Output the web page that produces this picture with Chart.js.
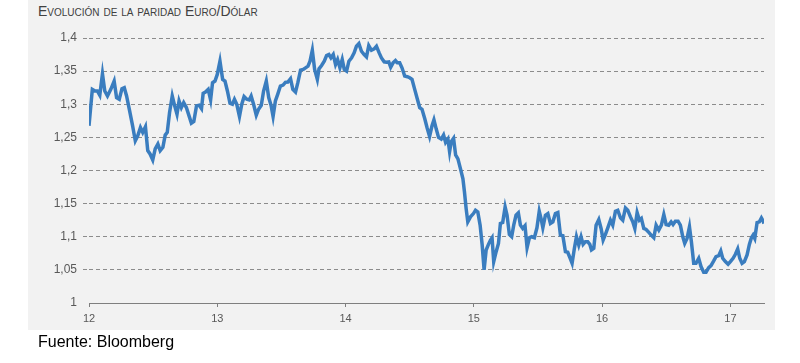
<!DOCTYPE html>
<html lang="es">
<head>
    <meta charset="UTF-8">
    <title>Evolución de la paridad Euro/Dólar</title>
    <script src="https://cdn.jsdelivr.net/npm/chart.js"></script>
    <style>
        html, body { margin: 0; padding: 0; background: #fff; }
        body { width: 800px; height: 363px; position: relative; overflow: hidden; font-family: "Liberation Sans", Arial, sans-serif; }
        #panel { position: absolute; left: 28px; top: 0; width: 747px; height: 330px; background: #f2f2f2; }
        #titulo { position: absolute; left: 38px; top: 3px; font-size: 14px; font-variant: small-caps; color: #404040; }
        #fuente { position: absolute; left: 38px; top: 333px; font-size: 16px; color: #000; }
        canvas { position: absolute; left: 0; top: 0; }
    </style>
</head>
<body>
    <div id="panel"></div>
    <div id="titulo">Evolución de la paridad Euro/Dólar</div>
    <canvas id="parChart" width="800" height="363"></canvas>
    <div id="fuente">Fuente: Bloomberg</div>

    <script>
        // fecha en años (12 = 2012), aprox. semanal
        const fechas = [
            12.000, 12.026, 12.047, 12.065, 12.084, 12.105, 12.123, 12.144, 12.170, 12.196, 12.215, 12.236, 12.257, 12.275, 12.293, 12.314,
            12.340, 12.361, 12.380, 12.401, 12.419, 12.440, 12.458, 12.476, 12.497, 12.516, 12.537, 12.555, 12.576, 12.594, 12.610, 12.628,
            12.649, 12.668, 12.686, 12.702, 12.720, 12.738, 12.759, 12.780, 12.798, 12.817, 12.838, 12.859, 12.877, 12.890, 12.908, 12.929,
            12.948, 12.963, 12.982,
            13.000, 13.021, 13.042, 13.060, 13.079, 13.099, 13.118, 13.134, 13.152, 13.173, 13.191, 13.209, 13.230, 13.249, 13.264, 13.283,
            13.304, 13.322, 13.343, 13.361, 13.382, 13.401, 13.419, 13.435, 13.453, 13.471, 13.492, 13.513, 13.531, 13.550, 13.571, 13.589,
            13.610, 13.628, 13.649, 13.670, 13.688, 13.707, 13.723, 13.741, 13.759, 13.780, 13.793, 13.813, 13.834, 13.852, 13.870, 13.886,
            13.904, 13.922, 13.938, 13.956, 13.974, 13.990,
            14.008, 14.026, 14.047, 14.067, 14.085, 14.104, 14.124, 14.145, 14.163, 14.181, 14.202, 14.223, 14.241, 14.262, 14.280, 14.301,
            14.319, 14.337, 14.352, 14.370, 14.389, 14.404, 14.422, 14.440, 14.461, 14.482, 14.500, 14.518, 14.539, 14.560, 14.578, 14.596,
            14.617, 14.635, 14.655, 14.674, 14.689, 14.707, 14.725, 14.746, 14.764, 14.780, 14.798, 14.811, 14.824, 14.842, 14.858, 14.876,
            14.896, 14.915, 14.927, 14.940, 14.953, 14.974, 14.997,
            15.013, 15.031, 15.049, 15.065, 15.080, 15.096, 15.114, 15.130, 15.142, 15.155, 15.174, 15.192, 15.207, 15.225, 15.244, 15.259,
            15.277, 15.295, 15.311, 15.329, 15.347, 15.363, 15.381, 15.399, 15.415, 15.433, 15.451, 15.472, 15.492, 15.510, 15.524, 15.538,
            15.558, 15.577, 15.597, 15.616, 15.636, 15.655, 15.675, 15.694, 15.714, 15.732, 15.751, 15.766, 15.784, 15.800, 15.818, 15.836,
            15.852, 15.870, 15.888, 15.904, 15.917, 15.935, 15.953, 15.974, 15.992,
            16.008, 16.026, 16.047, 16.065, 16.083, 16.104, 16.122, 16.143, 16.161, 16.182, 16.200, 16.221, 16.239, 16.255, 16.273, 16.291,
            16.306, 16.325, 16.343, 16.364, 16.382, 16.403, 16.421, 16.442, 16.462, 16.481, 16.499, 16.519, 16.538, 16.553, 16.571, 16.592,
            16.610, 16.629, 16.644, 16.662, 16.681, 16.696, 16.714, 16.732, 16.753, 16.771, 16.792, 16.810, 16.831, 16.849, 16.870, 16.888,
            16.909, 16.925, 16.940, 16.961, 16.982,
            17.000, 17.021, 17.039, 17.057, 17.073, 17.091, 17.109, 17.130, 17.148, 17.164, 17.177, 17.190, 17.208, 17.226, 17.242, 17.252,
            17.262
        ];

        // cotización euro/dólar
        const cambio = [
            1.2675, 1.3225, 1.3200, 1.3200, 1.3135, 1.3460, 1.3200, 1.3125, 1.3225, 1.3350, 1.3100, 1.3075, 1.3235, 1.3250, 1.3125, 1.2925,
            1.2675, 1.2450, 1.2525, 1.2650, 1.2575, 1.2660, 1.2300, 1.2250, 1.2160, 1.2325, 1.2400, 1.2300, 1.2350, 1.2535, 1.2575, 1.2875,
            1.3125, 1.2975, 1.2850, 1.3050, 1.2950, 1.3025, 1.2950, 1.2825, 1.2715, 1.2740, 1.2975, 1.2985, 1.2935, 1.3165, 1.3185, 1.3225,
            1.3065, 1.3325, 1.3350,
            1.3450, 1.3650, 1.3375, 1.3350, 1.3200, 1.3015, 1.3000, 1.3075, 1.3000, 1.2815, 1.3000, 1.3115, 1.3075, 1.3065, 1.3125, 1.3000,
            1.2835, 1.2925, 1.2985, 1.3200, 1.3350, 1.3100, 1.2985, 1.2815, 1.3050, 1.3150, 1.3275, 1.3290, 1.3330, 1.3335, 1.3385, 1.3225,
            1.3185, 1.3325, 1.3515, 1.3525, 1.3550, 1.3575, 1.3650, 1.3815, 1.3525, 1.3375, 1.3535, 1.3585, 1.3650, 1.3735, 1.3750, 1.3700,
            1.3750, 1.3600, 1.3675, 1.3550, 1.3675, 1.3525,
            1.3500, 1.3650, 1.3700, 1.3775, 1.3875, 1.3915, 1.3800, 1.3750, 1.3715, 1.3885, 1.3815, 1.3835, 1.3875, 1.3775, 1.3700, 1.3640,
            1.3635, 1.3640, 1.3560, 1.3625, 1.3660, 1.3625, 1.3625, 1.3550, 1.3425, 1.3415, 1.3400, 1.3375, 1.3225, 1.3075, 1.2950, 1.2925,
            1.2785, 1.2650, 1.2515, 1.2675, 1.2765, 1.2625, 1.2500, 1.2475, 1.2535, 1.2425, 1.2475, 1.2285, 1.2435, 1.2485, 1.2235, 1.2175,
            1.2025, 1.1875, 1.1675, 1.1425, 1.1225, 1.1300, 1.1350,
            1.1400, 1.1375, 1.1175, 1.0875, 1.0500, 1.0800, 1.0885, 1.0950, 1.0985, 1.0625, 1.0775, 1.0900, 1.1200, 1.1215, 1.1450, 1.1325,
            1.1035, 1.1000, 1.1175, 1.1325, 1.1360, 1.1175, 1.1125, 1.1165, 1.0835, 1.0985, 1.1000, 1.0985, 1.1135, 1.1385, 1.1275, 1.1135,
            1.1325, 1.1350, 1.1200, 1.1225, 1.1350, 1.1365, 1.1025, 1.1015, 1.0775, 1.0765, 1.0675, 1.0600, 1.0825, 1.1000, 1.0875, 1.1000,
            1.0885, 1.0925, 1.0925, 1.0885, 1.0800, 1.0825, 1.1175, 1.1260, 1.1125,
            1.0950, 1.1035, 1.1150, 1.1250, 1.1175, 1.1385, 1.1400, 1.1285, 1.1250, 1.1435, 1.1400, 1.1300, 1.1225, 1.1125, 1.1365, 1.1250,
            1.1275, 1.1125, 1.1110, 1.1065, 1.1025, 1.0985, 1.1175, 1.1100, 1.1175, 1.1335, 1.1185, 1.1175, 1.1225, 1.1185, 1.1235, 1.1235,
            1.1175, 1.1000, 1.0900, 1.0975, 1.1150, 1.0925, 1.0600, 1.0600, 1.0675, 1.0550, 1.0465, 1.0465, 1.0535, 1.0565, 1.0635, 1.0700,
            1.0715, 1.0785, 1.0675, 1.0625, 1.0585,
            1.0625, 1.0675, 1.0735, 1.0815, 1.0675, 1.0600, 1.0625, 1.0725, 1.0885, 1.0985, 1.1025, 1.0975, 1.1215, 1.1225, 1.1285, 1.1250,
            1.1200
        ];

        const puntos = fechas.map((f, i) => ({ x: f, y: cambio[i] }));

        const ctx = document.getElementById('parChart').getContext('2d');
        const parChart = new Chart(ctx, {
            type: 'line',
            data: {
                datasets: [{
                    label: 'Euro/Dólar',
                    data: puntos,
                    borderColor: '#3a7dbf',
                    borderWidth: 3.5,
                    pointRadius: 0,
                    tension: 0,
                    fill: false
                }]
            },
            options: {
                responsive: false,
                animation: false,
                layout: { padding: { left: 0, top: 38, right: 36, bottom: 0 } },
                plugins: { legend: { display: false }, tooltip: { enabled: false } },
                scales: {
                    x: {
                        type: 'linear',
                        min: 12,
                        max: 17.262,
                        afterFit: s => { s.height = 60; },
                        afterBuildTicks: s => { s.ticks = [12, 13, 14, 15, 16, 17].map(v => ({ value: v })); },
                        border: { display: true, color: '#7f7f7f', width: 1 },
                        grid: { drawOnChartArea: false, drawTicks: true, tickLength: 4, tickColor: '#7f7f7f' },
                        ticks: {
                            padding: 5,
                            color: '#595959',
                            font: { family: '"Liberation Sans Narrow", "Liberation Sans", Arial', size: 11 },
                            callback: v => String(v)
                        }
                    },
                    y: {
                        min: 1,
                        max: 1.4,
                        afterFit: s => { s.width = 89; },
                        // en v4 el trazo discontinuo de la rejilla va en border.dash
                        border: { display: false, dash: [4, 3] },
                        grid: {
                            color: c => c.tick.value === 1 ? 'rgba(0,0,0,0)' : '#8c8c8c',
                            tickColor: c => c.tick.value === 1 ? 'rgba(0,0,0,0)' : '#8c8c8c',
                            lineWidth: 1,
                            tickBorderDash: [4, 3],
                            tickLength: 6
                        },
                        ticks: {
                            stepSize: 0.05,
                            padding: 6,
                            color: '#595959',
                            font: { family: '"Liberation Sans", Arial', size: 12 },
                            callback: v => Number(v.toFixed(2)).toString().replace('.', ',')
                        }
                    }
                }
            }
        });
    </script>
</body>
</html>
